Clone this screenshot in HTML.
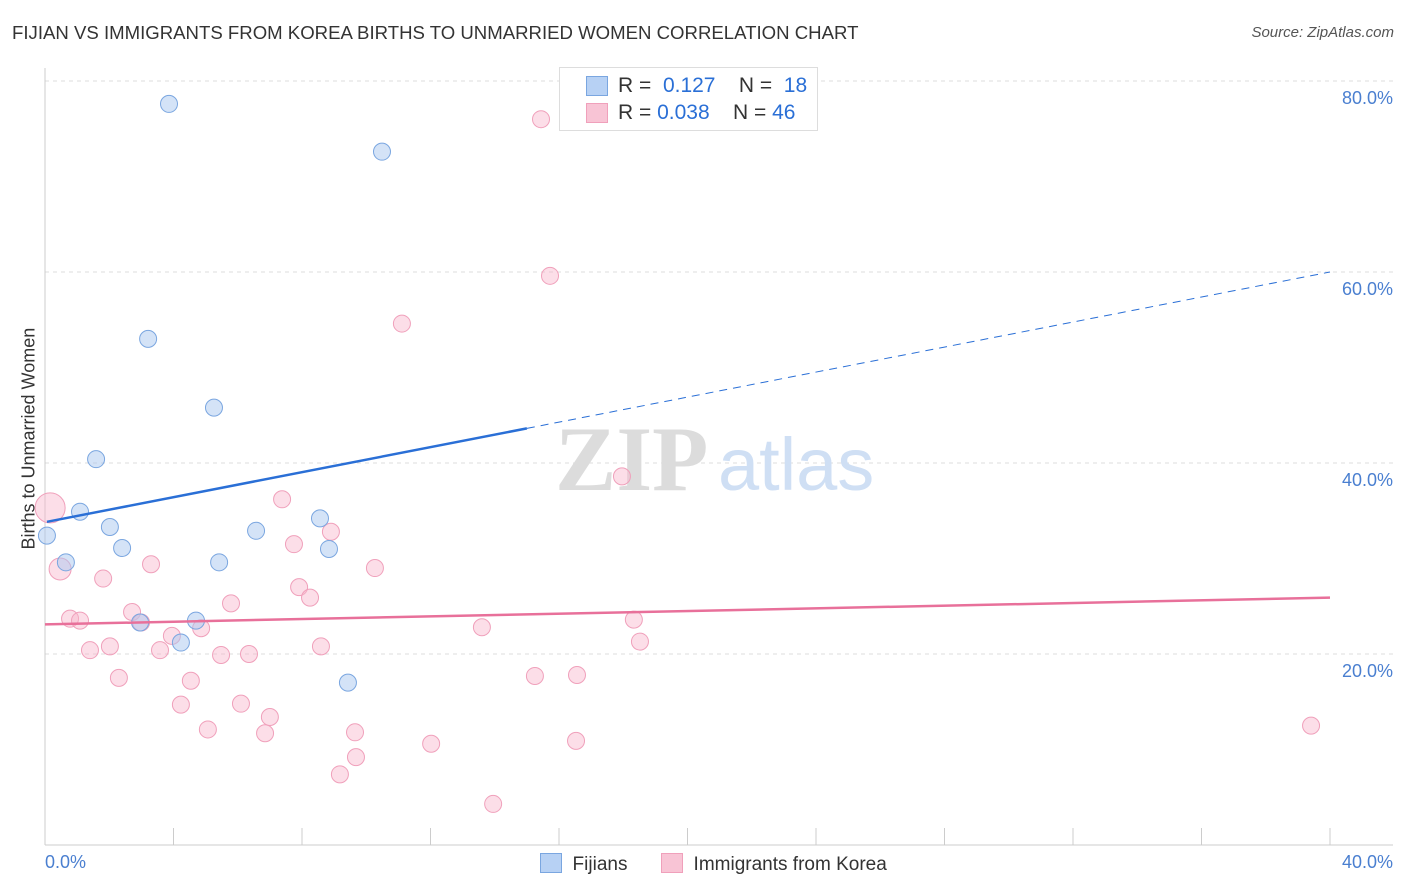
<!DOCTYPE html>
<html><head><meta charset="utf-8"><style>
body{margin:0;background:#fff;font-family:"Liberation Sans",sans-serif;}
#wrap{position:relative;width:1406px;height:892px;overflow:hidden;}
.t{position:absolute;white-space:nowrap;}
</style></head><body>
<div id="wrap">
<div class="t" style="left:12px;top:22px;font-size:18.6px;color:#333;">FIJIAN VS IMMIGRANTS FROM KOREA BIRTHS TO UNMARRIED WOMEN CORRELATION CHART</div>
<div class="t" style="right:12px;top:24px;font-size:15px;color:#555;font-style:italic;">Source: ZipAtlas.com</div>
<svg id="svg" width="1406" height="892" style="position:absolute;left:0;top:0"></svg>
</div>
<script>
const fijX=[0.06,0.65,1.09,1.59,2.02,2.40,2.96,3.21,3.86,4.23,4.70,5.26,5.42,6.57,8.56,8.84,9.43,10.49];
const fijY=[32.4,29.6,34.9,40.4,33.3,31.1,23.3,53.0,77.6,21.2,23.5,45.8,29.6,32.9,34.2,31.0,17.0,72.6];
const korX=[0.16,0.47,0.78,1.09,1.40,1.81,2.02,2.30,2.71,2.99,3.30,3.58,3.95,4.23,4.54,4.86,5.07,5.48,5.79,6.10,6.35,6.85,7.00,7.38,7.75,7.91,8.25,8.59,8.90,9.18,9.65,9.68,10.27,11.11,12.02,13.60,13.95,15.25,15.44,15.72,16.53,16.56,17.96,18.33,18.52,39.41];
const korY=[35.3,28.9,23.7,23.5,20.4,27.9,20.8,17.5,24.4,23.3,29.4,20.4,21.9,14.7,17.2,22.7,12.1,19.9,25.3,14.8,20.0,11.7,13.4,36.2,31.5,27.0,25.9,20.8,32.8,7.4,11.8,9.2,29.0,54.6,10.6,22.8,4.3,17.7,76.0,59.6,10.9,17.8,38.6,23.6,21.3,12.5];
const fijTrend=[33.8,60.0];
const korTrend=[23.1,25.9];
const yTicks=[20,40,60,80];
const yTickLabels=["20.0%","40.0%","60.0%","80.0%"];
const NS="http://www.w3.org/2000/svg";
const svg=document.getElementById('svg');
const sx=v=>45+v/40*1285, sy=v=>845-v/20*191;
function el(tag,a,parent){const e=document.createElementNS(NS,tag);for(const k in a)e.setAttribute(k,a[k]);(parent||svg).appendChild(e);return e;}
yTicks.forEach((t,i)=>{
 const g=el('line',{x1:45,x2:1393,y1:sy(t),y2:sy(t),stroke:'#ddd','stroke-dasharray':'4,4'});
 
 
 const tx=el('text',{x:1393,y:sy(t)+23,'text-anchor':'end','font-size':18,fill:'#4a7fd0','font-family':'Liberation Sans'});
 tx.textContent=yTickLabels[i];
 
 
});
const wm=el('text',{x:555,y:490,'font-size':92,fill:'#dcdcdc','font-family':'Liberation Serif','font-weight':'bold'});wm.textContent='ZIP';

const wm2=el('text',{x:718,y:490,'font-size':74,fill:'#cfdff4','font-family':'Liberation Sans'});wm2.textContent='atlas';

let a=el('line',{x1:45,x2:45,y1:68,y2:845,stroke:'#ccc'});
a=el('line',{x1:45,x2:1393,y1:845,y2:845,stroke:'#ccc'});
for(let i=0;i<=10;i++){const t=el('line',{x1:sx(i*4),x2:sx(i*4),y1:828,y2:845,stroke:'#ccc'});}
korX.forEach((x,i)=>{const r=i==0?15:(i==1?11:8.5);const c=el('circle',{cx:sx(x),cy:sy(korY[i]),r:r,fill:'rgba(248,182,204,0.45)',stroke:'#f0a0bb','stroke-width':1});
 });
fijX.forEach((x,i)=>{const c=el('circle',{cx:sx(x),cy:sy(fijY[i]),r:8.5,fill:'rgba(170,200,240,0.5)',stroke:'#7aa6e0','stroke-width':1});
 });
const fy=x=>fijTrend[0]+(fijTrend[1]-fijTrend[0])*x/40;
let l=el('line',{x1:sx(0.06),y1:sy(fy(0.06)),x2:sx(15),y2:sy(fy(15)),stroke:'#2a6fd6','stroke-width':2.5});

l=el('line',{x1:sx(15),y1:sy(fy(15)),x2:sx(40),y2:sy(fy(40)),stroke:'#2a6fd6','stroke-width':1,'stroke-dasharray':'8,6'});

l=el('line',{x1:sx(0),y1:sy(korTrend[0]),x2:sx(40),y2:sy(korTrend[1]),stroke:'#e8709a','stroke-width':2.5});

</script>
<div class="t" style="left:-66px;top:444px;transform:rotate(-90deg);font-size:18px;color:#333;width:190px;text-align:center;">Births to Unmarried Women</div>
<div class="t" style="left:45px;top:852px;font-size:18px;color:#4a7fd0;">0.0%</div>
<div class="t" style="right:13px;top:852px;font-size:18px;color:#4a7fd0;">40.0%</div>
<div style="position:absolute;left:559px;top:67px;width:257px;height:62px;border:1px solid #ddd;background:#fff;font-size:21px;color:#333;">
 <div style="position:absolute;left:26px;top:8px;width:20px;height:18px;background:#b7d1f4;border:1px solid #7aa6e0;"></div>
 <div class="t" style="left:58px;top:6px;">R = &nbsp;<span style="color:#2a6fd6">0.127</span>&nbsp;&nbsp;&nbsp; N = &nbsp;<span style="color:#2a6fd6">18</span></div>
 <div style="position:absolute;left:26px;top:35px;width:20px;height:18px;background:#f8c4d5;border:1px solid #f0a0bb;"></div>
 <div class="t" style="left:58px;top:33px;">R = <span style="color:#2a6fd6">0.038</span>&nbsp;&nbsp;&nbsp; N = <span style="color:#2a6fd6">46</span></div>
</div>
<div style="position:absolute;left:540px;top:853px;font-size:19px;color:#333;">
 <span style="display:inline-block;width:20px;height:18px;background:#b7d1f4;border:1px solid #7aa6e0;vertical-align:-3px;"></span>&nbsp; Fijians</div>
<div style="position:absolute;left:661px;top:853px;font-size:19px;color:#333;">
 <span style="display:inline-block;width:20px;height:18px;background:#f8c4d5;border:1px solid #f0a0bb;vertical-align:-3px;"></span>&nbsp; Immigrants from Korea</div>
</body></html>
